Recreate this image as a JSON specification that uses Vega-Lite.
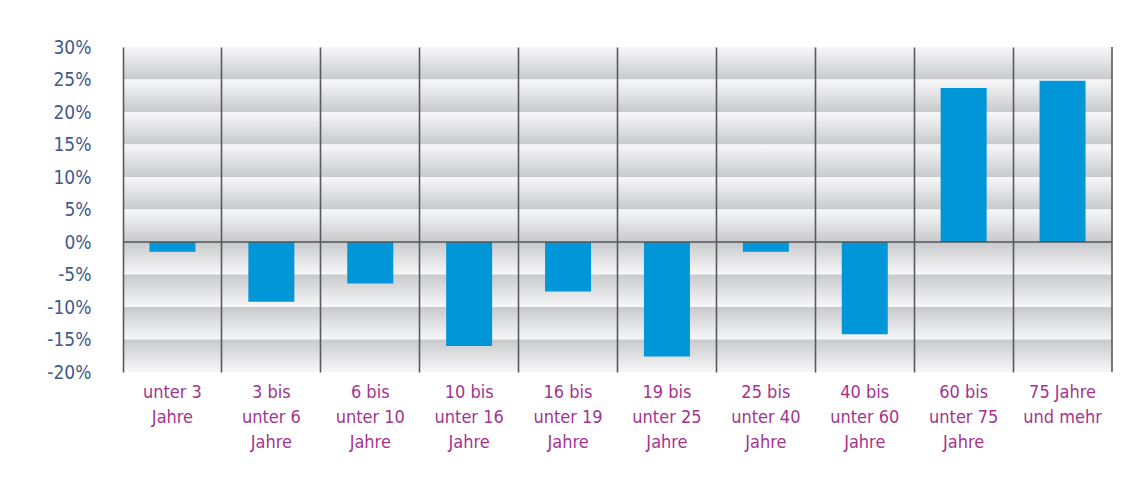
{
  "$schema": "https://vega.github.io/schema/vega-lite/v6.json",
  "width": 989,
  "height": 325,
  "autosize": "none",
  "padding": {"left": 123, "top": 47, "right": 26, "bottom": 126},
  "background": "white",
  "config": {
    "view": {"stroke": null},
    "font": "DejaVu Sans Condensed"
  },
  "datasets": {
    "bars": [
      {"cat": "unter 3\nJahre", "value": -1.5},
      {"cat": "3 bis\nunter 6\nJahre", "value": -9.2},
      {"cat": "6 bis\nunter 10\nJahre", "value": -6.4},
      {"cat": "10 bis\nunter 16\nJahre", "value": -16.0},
      {"cat": "16 bis\nunter 19\nJahre", "value": -7.6},
      {"cat": "19 bis\nunter 25\nJahre", "value": -17.6},
      {"cat": "25 bis\nunter 40\nJahre", "value": -1.5},
      {"cat": "40 bis\nunter 60\nJahre", "value": -14.2},
      {"cat": "60 bis\nunter 75\nJahre", "value": 23.7},
      {"cat": "75 Jahre\nund mehr", "value": 24.8}
    ],
    "bands": [
      {"lo": 25, "hi": 30, "sign": "pos"},
      {"lo": 20, "hi": 25, "sign": "pos"},
      {"lo": 15, "hi": 20, "sign": "pos"},
      {"lo": 10, "hi": 15, "sign": "pos"},
      {"lo": 5, "hi": 10, "sign": "pos"},
      {"lo": 0, "hi": 5, "sign": "pos"},
      {"lo": -5, "hi": 0, "sign": "neg"},
      {"lo": -10, "hi": -5, "sign": "neg"},
      {"lo": -15, "hi": -10, "sign": "neg"},
      {"lo": -20, "hi": -15, "sign": "neg"}
    ]
  },
  "encoding": {
    "y": {
      "type": "quantitative",
      "scale": {"domain": [-20, 30], "nice": false},
      "axis": {
        "title": null,
        "values": [-20, -15, -10, -5, 0, 5, 10, 15, 20, 25, 30],
        "labelExpr": "datum.value + '%'",
        "labelOverlap": false,
        "grid": false,
        "domain": false,
        "ticks": false,
        "labelFont": "DejaVu Sans Condensed",
        "labelFontSize": 19,
        "labelColor": "#3f5a8c",
        "labelPadding": 32
      }
    }
  },
  "layer": [
    {
      "data": {"name": "bands"},
      "transform": [{"filter": "datum.sign === 'pos'"}],
      "mark": {
        "type": "rect",
        "color": {
          "gradient": "linear", "x1": 0, "y1": 0, "x2": 0, "y2": 1,
          "stops": [
            {"offset": 0, "color": "#f8f8f9"},
            {"offset": 1, "color": "#c8c9cc"}
          ]
        }
      },
      "encoding": {
        "y": {"field": "hi"},
        "y2": {"field": "lo"}
      }
    },
    {
      "data": {"name": "bands"},
      "transform": [{"filter": "datum.sign === 'neg'"}],
      "mark": {
        "type": "rect",
        "color": {
          "gradient": "linear", "x1": 0, "y1": 0, "x2": 0, "y2": 1,
          "stops": [
            {"offset": 0, "color": "#c8c9cc"},
            {"offset": 1, "color": "#f8f8f9"}
          ]
        }
      },
      "encoding": {
        "y": {"field": "hi"},
        "y2": {"field": "lo"}
      }
    },
    {
      "data": {"name": "bars"},
      "mark": {"type": "bar", "color": "#0096d7", "width": {"band": 0.465}},
      "encoding": {
        "x": {
          "field": "cat", "type": "nominal", "sort": null,
          "scale": {"paddingInner": 0, "paddingOuter": 0},
          "axis": {
            "title": null,
            "orient": "bottom",
            "zindex": 1,
            "bandPosition": 0,
            "grid": true,
            "gridColor": "#5a5a5a",
            "gridWidth": 1.6,
            "gridOpacity": 1,
            "domain": false,
            "ticks": false,
            "labelAngle": 0,
            "labelExpr": "split(datum.label, '\\n')",
            "labelFont": "DejaVu Sans Condensed",
            "labelFontSize": 18,
            "labelLineHeight": 25,
            "labelColor": "#a4338e",
            "labelPadding": 11,
            "labelBaseline": "top",
            "labelAlign": "center",
            "labelOverlap": false,
            "labelOffset": 0
          }
        },
        "y": {"field": "value"}
      }
    },
    {
      "data": {"name": "bars"},
      "transform": [{"filter": "datum.cat === '75 Jahre\\nund mehr'"}],
      "mark": {"type": "rule", "color": "#5a5a5a", "strokeWidth": 1.6},
      "encoding": {
        "x": {"field": "cat", "type": "nominal", "sort": null, "bandPosition": 1},
        "y": null
      }
    },
    {
      "data": {"values": [{"z": 0}]},
      "mark": {"type": "rule", "color": "#555555", "strokeWidth": 1.4},
      "encoding": {"y": {"field": "z"}}
    }
  ]
}
